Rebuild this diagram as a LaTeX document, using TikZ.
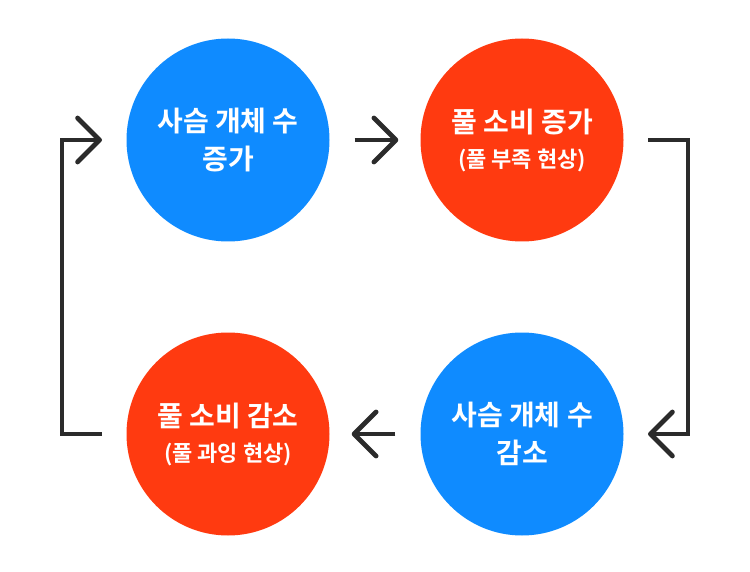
\documentclass[tikz,border=0pt]{standalone}
\usepackage{fontspec}
\newfontfamily\kr{Noto Sans CJK KR}[BoldFont={Noto Sans CJK KR Bold}]
\usetikzlibrary{arrows.meta}
\definecolor{cblue}{HTML}{0F8BFF}
\definecolor{cred}{HTML}{FF3A10}
\definecolor{cdark}{HTML}{2B2B2B}
\tikzset{
  bub/.style={circle, minimum size=203pt, inner sep=0pt, text=white, align=center, font=\kr\bfseries\fontsize{28}{38}\selectfont},
  bblue/.style={bub, fill=cblue},
  bred/.style={bub, fill=cred},
  conn/.style={draw=cdark, line width=4.8pt, -{Straight Barb[length=22pt, width=44pt, line width=4.8pt, round]}},
}
\newcommand{\subt}[1]{{\fontsize{22}{36}\selectfont #1}}
\begin{document}
\begin{tikzpicture}[x=1pt,y=-1pt]
\useasboundingbox (0,0) rectangle (750,572);
\node[bblue] (a) at (228,140) {사슴 개체 수\\증가};
\node[bred] (b) at (522,140) {풀 소비 증가\\[-3pt]\subt{(풀 부족 현상)}};
\node[bblue] (c) at (522,434) {사슴 개체 수\\감소};
\node[bred] (d) at (228,434) {풀 소비 감소\\[-3pt]\subt{(풀 과잉 현상)}};
\coordinate (r1) at (648,140);
\coordinate (r2) at (648,434);
\coordinate (l1) at (102,434);
\coordinate (l2) at (102,140);
\draw[conn] ([xshift=25pt]a.east) -- ([xshift=-22pt]b.west);
\draw[conn, line cap=butt] (r1) -- (688,140) -- (688,434) -- (r2);
\draw[conn] ([xshift=-25pt]c.west) -- ([xshift=22pt]d.east);
\draw[conn] (l1) -- (62,434) -- (62,140) -- (l2);
\end{tikzpicture}
\end{document}
